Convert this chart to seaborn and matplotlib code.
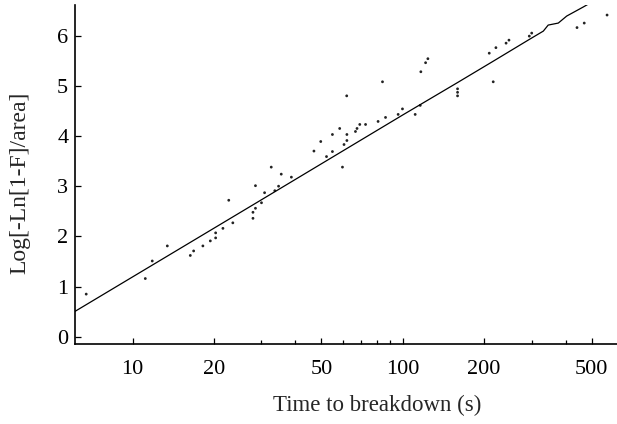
import numpy as np
import pandas as pd
import matplotlib
matplotlib.use("Agg")
import matplotlib.pyplot as plt
import seaborn as sns

# ---- data ----
time_s = [6.74, 11.15, 11.83, 13.45, 16.36, 16.83, 18.21, 19.4, 20.3, 20.3,
          21.6, 22.7, 23.5, 27.9, 27.9, 28.5, 28.5, 30.0, 30.8, 32.6,
          33.6, 34.7, 35.5, 38.7, 46.9, 49.7, 52.2, 54.9, 54.9, 58.4,
          59.8, 60.6, 62.0, 62.1, 62.1, 66.8, 67.7, 69.3, 72.8, 81.0,
          84.1, 86.3, 96.1, 99.7, 111.1, 116.6, 121.4, 123.8, 116.0, 159.4,
          159.4, 159.4, 208.8, 216.0, 221.0, 241.0, 247.0, 293.7, 299.8, 441.0,
          469.0, 569.7]
log_hazard = [0.85, 1.16, 1.51, 1.81, 1.62, 1.71, 1.81, 1.91, 1.97, 2.07,
              2.16, 2.72, 2.27, 2.36, 2.48, 3.01, 2.56, 2.67, 2.87, 3.38,
              2.91, 3.00, 3.24, 3.18, 3.70, 3.89, 3.59, 4.03, 3.69, 4.15,
              3.38, 3.83, 4.80, 4.03, 3.91, 4.09, 4.15, 4.23, 4.23, 4.29,
              5.08, 4.37, 4.43, 4.54, 4.43, 5.28, 5.46, 5.54, 4.61, 4.94,
              4.87, 4.80, 5.65, 5.08, 5.76, 5.85, 5.91, 5.99, 6.05, 6.16,
              6.25, 6.41]

fit_time = [6.1, 30.0, 100.0, 160.0, 216.0, 295.0, 331.0, 345.0, 376.0, 404.0, 465.0, 520.0]
fit_value = [0.50, 2.73, 4.42, 5.07, 5.49, 5.93, 6.09, 6.21, 6.25, 6.39, 6.57, 6.72]

x_major = [10, 20, 50, 100, 200, 500]
x_minor = [30, 40, 60, 70, 80, 90, 300, 400]
y_ticks = [0, 1, 2, 3, 4, 5, 6]

points = pd.DataFrame({"time": time_s, "value": log_hazard})
fit = pd.DataFrame({"time": fit_time, "value": fit_value})

sns.set_style("ticks")
plt.rcParams["font.family"] = ["Liberation Serif", "DejaVu Serif"]

fig = plt.figure(figsize=(6.17, 4.24), dpi=100)
ax = fig.add_axes([74.5 / 617, 79.7 / 424, (617 - 74.5) / 617, (344.3 - 5) / 424])
ax.set_xscale("log")

sns.lineplot(data=fit, x="time", y="value", ax=ax, color="black", linewidth=0.9)
sns.scatterplot(data=points, x="time", y="value", ax=ax, s=4, color="#222222",
                edgecolor="none", linewidth=0)

ax.set_xlim(6.1, 620)
ax.set_ylim(-0.15, 6.61)

ax.set_xticks(x_major, labels=[str(v) for v in x_major])
ax.set_xticks(x_minor, minor=True)
ax.set_xticklabels([], minor=True)
ax.set_yticks(y_ticks, labels=[str(v) for v in y_ticks])

ax.tick_params(which="both", direction="in", color="black", width=0.9)
ax.tick_params(which="major", length=4, labelsize=16, colors="black")
ax.tick_params(which="minor", length=3)
ax.tick_params(axis="x", pad=11.5)
ax.tick_params(axis="y", pad=4.5)

for side in ["top", "right"]:
    ax.spines[side].set_visible(False)
for side in ["left", "bottom"]:
    ax.spines[side].set_linewidth(1.2)
    ax.spines[side].set_color("black")

ax.set_xlabel("Time to breakdown (s)", fontsize=16.5, labelpad=11.5, x=0.5576)
ax.set_ylabel("Log[-Ln[1-F]/area]", fontsize=17, labelpad=19, y=0.4754)

fig.savefig("out.png", dpi=100)
